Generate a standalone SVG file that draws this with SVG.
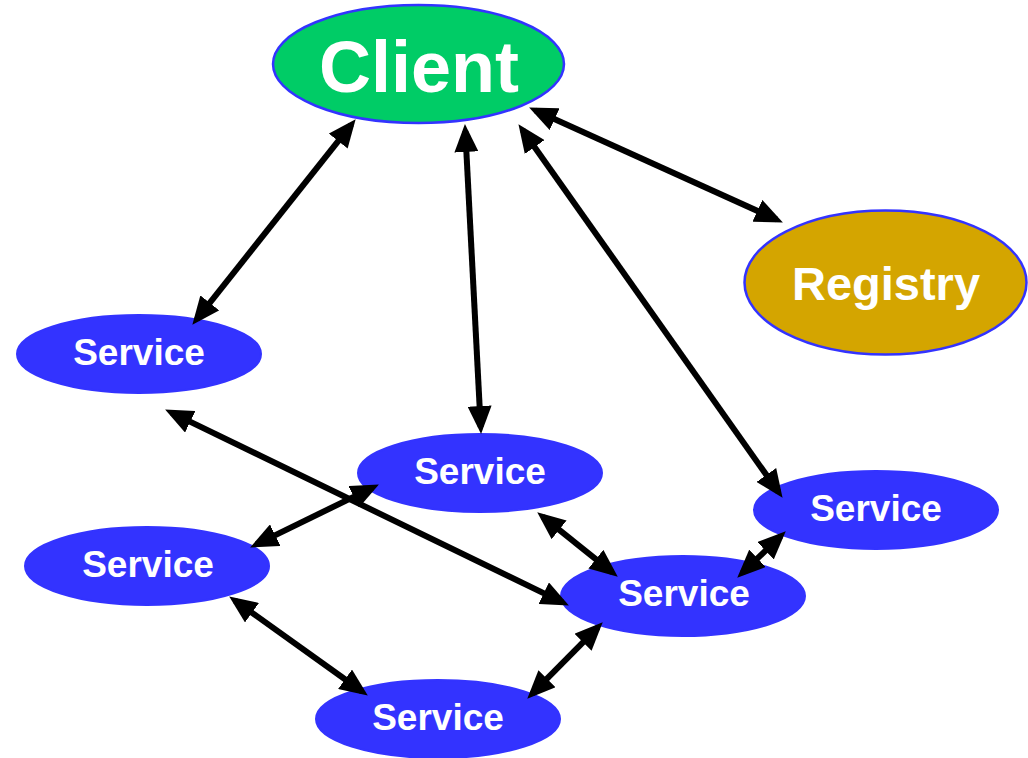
<svg xmlns="http://www.w3.org/2000/svg" width="1028" height="758" viewBox="0 0 1028 758">
<style>
.svc{fill:#3333ff;stroke:#3333ff;stroke-width:2}
.lbl{font-family:"Liberation Sans",Arial,sans-serif;font-weight:bold;fill:#ffffff;text-anchor:middle}
.s{font-size:37px}
.edge{stroke:#000;stroke-width:6;fill:none;marker-start:url(#ah);marker-end:url(#ah)}
</style>
<defs>
<marker id="ah" markerUnits="userSpaceOnUse" markerWidth="28" markerHeight="24" refX="21" refY="12" orient="auto-start-reverse" viewBox="0 0 28 24">
<path d="M0,0 L28,12 L0,24 z" fill="#000"/>
</marker>
</defs>
<rect width="1028" height="758" fill="#fff"/>
<g id="client">
<ellipse cx="418.5" cy="64" rx="145.5" ry="59" fill="#00cc66" stroke="#3333ff" stroke-width="2.5"/>
<text class="lbl" x="419" y="92" font-size="72">Client</text>
</g>
<g id="registry">
<ellipse cx="885.5" cy="282.5" rx="141" ry="72" fill="#d4a500" stroke="#3333ff" stroke-width="2.5"/>
<text class="lbl" x="886" y="300" font-size="47">Registry</text>
</g>
<g id="service1">
<ellipse class="svc" cx="139" cy="354" rx="122" ry="39"/>
<text class="lbl s" x="139" y="365">Service</text>
</g>
<g id="service2">
<ellipse class="svc" cx="480" cy="473" rx="122" ry="39"/>
<text class="lbl s" x="480" y="484">Service</text>
</g>
<g id="service3">
<ellipse class="svc" cx="876" cy="510" rx="122" ry="39"/>
<text class="lbl s" x="876" y="521">Service</text>
</g>
<g id="service4">
<ellipse class="svc" cx="147" cy="566" rx="122" ry="39"/>
<text class="lbl s" x="148" y="577">Service</text>
</g>
<g id="service5">
<ellipse class="svc" cx="683" cy="596" rx="122" ry="40"/>
<text class="lbl s" x="684" y="606">Service</text>
</g>
<g id="service6">
<ellipse class="svc" cx="438" cy="719" rx="122" ry="39"/>
<text class="lbl s" x="438" y="730">Service</text>
</g>
<g id="connectors">
<line class="edge" x1="351.3" y1="124.7" x2="196.7" y2="319.3"/>
<line class="edge" x1="465.3" y1="131" x2="480.7" y2="427"/>
<line class="edge" x1="522.5" y1="129.9" x2="778.5" y2="492.1"/>
<line class="edge" x1="535.5" y1="110.5" x2="776.5" y2="219.5"/>
<line class="edge" x1="171.4" y1="412.6" x2="562.6" y2="602.4"/>
<line class="edge" x1="372.6" y1="487.6" x2="256.4" y2="544.4"/>
<line class="edge" x1="542.7" y1="516.7" x2="612.3" y2="572.3"/>
<line class="edge" x1="780.7" y1="536.2" x2="742.3" y2="572.8"/>
<line class="edge" x1="234.9" y1="600.5" x2="362.1" y2="691.5"/>
<line class="edge" x1="597.8" y1="627.3" x2="532.2" y2="693.7"/>
</g>
</svg>
